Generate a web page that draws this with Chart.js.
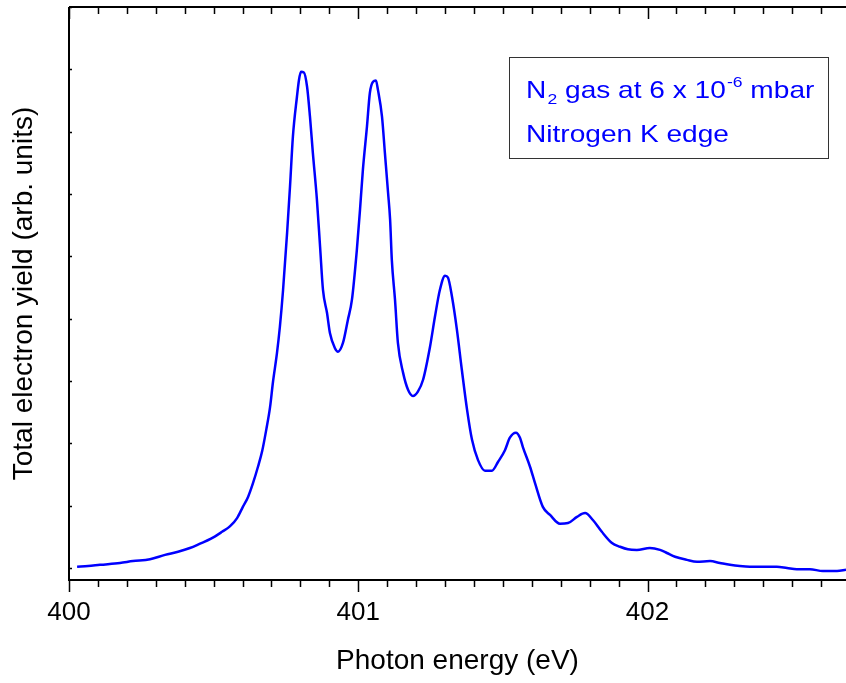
<!DOCTYPE html>
<html>
<head>
<meta charset="utf-8">
<title>N2 K edge</title>
<script src="https://cdn.jsdelivr.net/npm/chart.js@4/dist/chart.umd.min.js"></script>
<style>
  html, body { margin: 0; padding: 0; background: #fff; }
  #chart { display: block; }
</style>
</head>
<body>
<canvas id="chart" width="846" height="683"></canvas>
<script>
// Photon energy (eV)
const energy = [
  400.028, 400.066, 400.107, 400.176, 400.221, 400.280, 400.332, 400.377, 400.418, 400.453,
  400.491, 400.529, 400.557, 400.581, 400.601, 400.619, 400.636, 400.653, 400.668, 400.682,
  400.695, 400.705, 400.719, 400.729, 400.740, 400.754, 400.764, 400.774, 400.788, 400.795,
  400.802, 400.812, 400.823, 400.833, 400.843, 400.857, 400.868, 400.878, 400.892, 400.902,
  400.919, 400.930, 400.947, 400.964, 400.978, 400.995, 401.006, 401.016, 401.030, 401.040,
  401.051, 401.061, 401.068, 401.082, 401.092, 401.103, 401.110, 401.116, 401.127, 401.137,
  401.155, 401.172, 401.189, 401.206, 401.224, 401.248, 401.265, 401.282, 401.300, 401.310,
  401.324, 401.341, 401.358, 401.376, 401.393, 401.414, 401.438, 401.462, 401.483, 401.507,
  401.524, 401.545, 401.559, 401.569, 401.594, 401.611, 401.638, 401.663, 401.697, 401.725,
  401.756, 401.784, 401.811, 401.842, 401.877, 401.905, 401.932, 401.963, 402.008, 402.043,
  402.067, 402.095, 402.136, 402.171, 402.216, 402.250, 402.285, 402.319, 402.354, 402.399,
  402.447, 402.482, 402.516, 402.561, 402.606, 402.655, 402.686
];

// Total electron yield (arb. units)
const yieldVals = [
  0.02, 0.03, 0.05, 0.08, 0.11, 0.14, 0.21, 0.26, 0.32, 0.39,
  0.47, 0.58, 0.67, 0.80, 0.98, 1.14, 1.36, 1.62, 1.88, 2.22,
  2.58, 2.98, 3.45, 3.87, 4.46, 5.38, 6.12, 6.92, 7.56, 7.83,
  7.96, 7.95, 7.72, 7.24, 6.66, 5.91, 5.15, 4.46, 4.09, 3.77,
  3.53, 3.47, 3.61, 3.98, 4.30, 5.10, 5.75, 6.39, 7.08, 7.62,
  7.80, 7.82, 7.67, 7.24, 6.66, 6.02, 5.59, 4.94, 4.30, 3.61,
  3.13, 2.86, 2.76, 2.83, 3.02, 3.55, 4.03, 4.46, 4.69, 4.66,
  4.35, 3.82, 3.18, 2.54, 2.06, 1.73, 1.56, 1.56, 1.70, 1.89,
  2.09, 2.17, 2.09, 1.94, 1.62, 1.36, 0.98, 0.85, 0.71, 0.72,
  0.82, 0.88, 0.77, 0.58, 0.40, 0.34, 0.30, 0.29, 0.32, 0.29,
  0.24, 0.18, 0.13, 0.10, 0.11, 0.08, 0.05, 0.03, 0.02, 0.02,
  0.02, 0.00, -0.02, -0.02, -0.05, -0.05, -0.03
];

const xMajorTicks = [400, 401, 402];
const xRange = [400, 402.686];
const yRange = [-0.193, 9.0];

const FONT = '"Liberation Sans", Arial, sans-serif';
const BLUE = '#0000ff';

// frame, minor ticks and the text box
const framePlugin = {
    id: 'frame',
    afterDraw(chart) {
        const ctx = chart.ctx;
        const area = chart.chartArea;
        const xs = chart.scales.x;
        const ys = chart.scales.y;
        ctx.save();
        ctx.strokeStyle = '#000';
        ctx.lineWidth = 2;
        ctx.beginPath();
        ctx.moveTo(area.left, area.top);
        ctx.lineTo(area.right, area.top);
        ctx.moveTo(area.left, area.top);
        ctx.lineTo(area.left, area.bottom);
        ctx.lineTo(area.right, area.bottom);
        ctx.stroke();

        // x ticks every 0.1 eV, out at the bottom, in at the top
        ctx.lineWidth = 1.5;
        ctx.beginPath();
        for (let i = 0; i <= 30; i++) {
            const v = 400 + i * 0.1;
            if (v > xRange[1]) break;
            const px = Math.round(xs.getPixelForValue(v)) + 0.5;
            const len = i % 10 === 0 ? 12 : 7;
            ctx.moveTo(px, area.bottom);
            ctx.lineTo(px, area.bottom + len);
            ctx.moveTo(px, area.top);
            ctx.lineTo(px, area.top + len);
        }
        ctx.stroke();

        // small inward y ticks
        ctx.beginPath();
        ys.ticks.forEach(t => {
            const py = Math.round(ys.getPixelForValue(t.value)) + 0.5;
            ctx.moveTo(area.left, py);
            ctx.lineTo(area.left + 3, py);
        });
        ctx.stroke();

        // annotation box
        const bx = area.left + 440, by = area.top + 50;
        ctx.strokeStyle = '#333';
        ctx.lineWidth = 1;
        ctx.strokeRect(bx + 0.5, by + 0.5, 319, 101);

        // text is a little wider than the font, so stretch it sideways
        const sx = 1.17;
        ctx.translate(bx + 17, 0);
        ctx.scale(sx, 1);
        ctx.fillStyle = BLUE;
        ctx.textBaseline = 'alphabetic';
        ctx.textAlign = 'left';
        let tx = 0;
        const base1 = by + 41;
        ctx.font = '24px ' + FONT;
        ctx.fillText('N', tx, base1);
        tx += ctx.measureText('N').width;
        ctx.font = '15px ' + FONT;
        ctx.fillText('2', tx + 1, base1 + 6);
        tx += ctx.measureText('2').width + 1;
        ctx.font = '24px ' + FONT;
        const mid = ' gas at 6 x 10';
        ctx.fillText(mid, tx, base1);
        tx += ctx.measureText(mid).width;
        ctx.font = '15px ' + FONT;
        ctx.fillText('-6', tx + 1, base1 - 11);
        tx += ctx.measureText('-6').width + 1;
        ctx.font = '24px ' + FONT;
        ctx.fillText(' mbar', tx, base1);
        ctx.fillText('Nitrogen K edge', 0, by + 85);
        ctx.restore();
    }
};

const points = energy.map((e, i) => ({ x: e, y: yieldVals[i] }));

new Chart(document.getElementById('chart'), {
    type: 'line',
    data: {
        datasets: [{
            data: points,
            borderColor: BLUE,
            borderWidth: 2.5,
            pointRadius: 0,
            fill: false,
            cubicInterpolationMode: 'monotone'
        }]
    },
    options: {
        responsive: false,
        animation: false,
        events: [],
        layout: { padding: { top: 7, right: 0, left: 0, bottom: 0 } },
        plugins: {
            legend: { display: false },
            tooltip: { enabled: false }
        },
        scales: {
            x: {
                type: 'linear',
                min: xRange[0],
                max: xRange[1],
                afterFit(scale) { scale.height = 103; },
                afterBuildTicks(scale) {
                    scale.ticks = xMajorTicks.map(v => ({ value: v }));
                },
                grid: { display: false, drawTicks: false },
                border: { display: false },
                ticks: {
                    color: '#000',
                    font: { family: FONT, size: 26 },
                    padding: 17,
                    maxRotation: 0,
                    callback: v => String(v)
                },
                title: {
                    display: true,
                    text: 'Photon energy (eV)',
                    color: '#000',
                    font: { family: FONT, size: 28 },
                    padding: { top: 0, bottom: 5 }
                }
            },
            y: {
                min: yRange[0],
                max: yRange[1],
                afterFit(scale) { scale.width = 69; },
                grid: { display: false, drawTicks: false },
                border: { display: false },
                ticks: { display: false, stepSize: 1, includeBounds: false },
                title: {
                    display: true,
                    text: 'Total electron yield (arb. units)',
                    color: '#000',
                    font: { family: FONT, size: 28 },
                    padding: { top: 7, bottom: 0 }
                }
            }
        }
    },
    plugins: [framePlugin]
});
</script>
</body>
</html>
